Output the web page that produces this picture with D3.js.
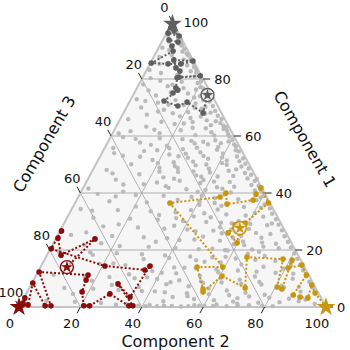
<!DOCTYPE html>
<html>
<head>
<meta charset="utf-8">
<script src="https://cdn.jsdelivr.net/npm/d3@7"></script>
<style>
body { margin: 0; background: #fff; }
text { font-family: "DejaVu Sans", Verdana, sans-serif; fill: #111; }
</style>
</head>
<body>
<svg width="350" height="350"></svg>
<script>

// DATA  (each point is [Component 1, Component 2] in %, Component 3 = 100 - a - b)

var tickValues = [0, 20, 40, 60, 80, 100];
var gridValues = [20, 40, 60, 80];
var axisTitles = ["Component 1", "Component 2", "Component 3"];

var grayPath = [
    [99.4, 0.3], [97.9, 0.5], [96.8, 2.1], [95.1, 4.6], [96.1, 0.5], [93.7, 2.0],
    [93.0, 5.3], [91.6, 4.0], [89.8, 5.3], [85.6, 0.3], [85.3, 5.9], [85.3, 10.1],
    [86.3, 13.5], [86.7, 7.1], [83.9, 9.2], [82.8, 11.0], [80.7, 11.8], [81.1, 18.5],
    [80.4, 11.3], [76.8, 12.7], [75.1, 12.6], [76.1, 13.7], [72.3, 11.1], [70.5, 16.5],
    [71.9, 18.8], [68.1, 25.9], [74.4, 24.2]
];

var redPath = [
    [0, 0], [1.4, 0.6], [3.2, 0.3], [0.7, 2.6], [8.4, 0.3], [0.4, 8.3], [0.4, 10.2],
    [12.3, 0.4], [11.2, 16.9], [9.5, 17.1], [5.3, 17.9], [0.4, 20.9], [0.4, 22.8],
    [4.6, 27.3], [0.4, 35.6], [0.4, 36.9], [8.1, 28.2], [3.5, 34.4], [14.4, 35.5],
    [13.0, 34.5], [14.4, 20.8], [20.4, 0.3], [26.7, 0.5], [24.2, 0.6], [18.2, 4.6],
    [23.9, 12.8], [14.0, 8.6]
];

var goldPath = [
    [0, 100], [4.9, 94.0], [7.7, 91.5], [3.2, 92.5], [3.5, 89.8], [4.2, 87.2],
    [11.2, 88.0], [14.7, 84.8], [13.7, 80.8], [16.5, 80.7], [6.3, 82.5], [7.0, 80.6],
    [16.8, 77.6], [17.5, 65.5], [6.7, 70.3], [10.9, 60.7], [5.3, 57.3], [6.3, 56.8],
    [14.0, 51.0], [14.0, 59.4], [36.5, 30.9], [38.6, 46.2], [40.0, 47.4], [36.1, 49.7],
    [37.5, 57.5], [39.6, 57.4], [41.8, 57.9], [36.5, 63.0], [29.5, 58.9], [28.8, 56.0],
    [26.0, 55.1], [22.5, 59.8], [27.7, 58.1]
];

var cloudPoints = [
    [98.5,0.8],[96.8,2.2],[95.2,1.0],[94.4,4.6],[93.1,2.5],[92.3,6.1],[91.0,1.2],[90.2,3.8],[89.6,8.4],[88.4,5.6],
    [87.7,1.9],[86.9,10.2],[86.1,7.3],[85.3,3.1],[84.8,12.4],[84.0,8.8],[83.2,0.9],[82.7,14.6],[82.1,5.2],[81.4,10.9],
    [80.8,16.8],[80.3,2.7],[87.1,12.3],[91.7,7.2],[85.6,14.1],[83.5,16.0],[89.0,10.1],[93.8,5.9],
    [79.4,6.3],[79.0,13.5],[78.6,18.9],[78.1,1.4],[77.5,9.7],[77.2,20.6],[76.8,15.2],[76.0,4.2],[75.7,22.4],[75.3,11.8],
    [74.9,17.6],[74.2,7.5],[73.8,24.6],[73.5,20.3],[72.9,1.9],[72.6,14.7],[72.1,26.1],[71.7,9.4],[71.4,21.8],[70.9,18.2],
    [70.5,27.9],[70.0,4.8],[69.6,24.7],[69.2,12.6],[68.8,29.5],[68.4,20.9],[68.0,16.1],[67.5,7.9],[67.1,31.2],[66.8,25.8],
    [66.3,22.7],[65.9,2.6],[65.5,28.4],[65.0,13.9],[64.6,33.3],[64.2,18.6],[63.8,30.6],[63.3,9.8],[62.9,25.1],[62.5,35.4],
    [62.0,21.7],[61.7,5.5],[61.3,32.0],[61.0,15.3],[60.6,37.8],[60.3,27.3],[78.0,11.0],[74.0,21.9],[72.3,5.0],[69.9,22.3],
    [67.8,26.7],[66.0,33.0],[63.0,36.0],[64.9,24.1],[71.0,13.2],[76.3,19.5],[68.6,11.0],[62.2,13.0],[60.9,2.0],
    [59.6,4.1],[59.2,16.3],[58.9,23.8],[58.5,34.7],[58.1,39.2],[57.7,10.6],[57.4,28.5],[57.0,41.6],[56.6,19.9],[56.2,36.8],
    [55.8,2.8],[55.4,25.7],[55.0,43.1],[54.7,13.4],[54.3,31.9],[53.9,39.5],[53.5,22.2],[53.1,7.3],[52.8,44.6],[52.4,28.8],
    [52.0,35.6],[51.6,17.7],[51.2,46.2],[50.8,25.0],[50.5,40.9],[50.1,11.5],[49.7,32.7],[49.3,47.8],[48.9,21.3],[48.5,37.6],
    [48.1,4.5],[47.8,44.4],[47.4,28.1],[47.0,50.1],[46.6,15.9],[46.2,34.6],[45.8,41.8],[45.5,24.3],[45.1,51.9],[44.7,9.2],
    [44.3,30.2],[43.9,46.7],[43.5,37.3],[43.1,19.1],[42.8,54.3],[42.4,26.6],[42.0,43.5],[41.6,1.8],[41.3,33.9],[40.9,56.4],
    [40.5,13.7],[40.2,48.9],[58.0,31.0],[56.9,14.5],[55.2,36.9],[53.8,27.4],[52.5,39.9],[51.0,31.2],[49.9,42.7],[48.8,27.3],
    [47.2,38.6],[46.0,46.8],[44.6,37.8],[43.7,23.1],[42.2,49.0],[41.1,40.2],[59.0,8.5],[54.0,4.0],[50.5,20.0],[46.9,7.0],
    [43.0,12.5],[57.5,37.0],[52.7,13.1],[48.3,46.6],[44.9,55.0],[41.8,27.8],[40.4,38.0],[55.7,21.1],
    [39.7,5.8],[39.3,18.4],[39.0,27.6],[38.6,36.9],[38.2,44.7],[37.8,52.5],[37.5,58.6],[37.1,10.9],[36.7,23.3],[36.3,31.5],
    [35.9,40.8],[35.5,48.2],[35.1,55.7],[34.8,61.4],[34.4,2.9],[34.0,15.2],[33.6,26.1],[33.2,34.4],[32.9,43.9],[32.5,51.3],
    [32.1,57.8],[31.7,63.7],[31.3,8.6],[31.0,20.7],[30.6,29.9],[30.2,38.3],[29.8,46.1],[29.4,54.6],[29.1,60.8],[28.7,66.5],
    [28.3,13.3],[27.9,24.8],[27.5,33.6],[27.2,41.2],[26.8,49.9],[26.4,57.3],[26.0,64.2],[25.6,69.1],[25.3,4.3],[24.9,17.9],
    [24.5,28.4],[24.1,36.2],[23.7,45.3],[23.3,53.8],[23.0,61.5],[22.6,67.9],[22.2,72.6],[21.8,10.4],[21.4,22.1],[21.1,31.7],
    [20.7,40.6],[20.3,48.4],[20.0,57.1],[20.2,65.8],[20.6,74.3],[39.5,47.2],[38.4,59.5],[37.0,40.3],[36.0,62.0],[35.3,20.4],
    [34.2,47.6],[33.0,60.3],[32.3,29.5],[31.5,46.7],[30.1,56.5],[29.3,67.7],[28.5,36.3],[27.4,61.2],[26.6,44.2],[25.9,53.1],
    [25.0,59.9],[24.3,66.8],[23.5,40.5],[22.9,33.1],[22.0,58.9],[21.2,69.0],[20.5,52.7],[38.8,12.1],[33.8,6.9],[29.0,18.0],
    [26.2,8.8],[22.4,15.6],[37.6,32.9],[31.2,35.6],[28.0,51.5],[24.7,47.6],
    [19.6,3.1],[19.2,13.6],[18.9,22.4],[18.5,30.8],[18.1,38.5],[17.7,46.9],[17.4,54.3],[17.0,62.1],[16.6,68.7],[16.2,75.4],
    [15.8,80.9],[15.5,8.2],[15.1,18.7],[14.7,27.3],[14.3,35.1],[13.9,43.6],[13.6,50.8],[13.2,57.7],[12.8,64.9],[12.4,71.2],
    [12.0,77.6],[11.7,83.5],[11.3,5.6],[10.9,15.9],[10.5,24.2],[10.1,32.6],[9.8,40.1],[9.4,47.5],[9.0,54.8],[8.6,61.7],
    [8.2,68.3],[7.9,75.0],[7.5,81.8],[7.1,87.6],[6.7,11.4],[6.4,21.0],[6.0,29.4],[5.6,37.2],[5.2,44.9],[4.8,52.3],
    [4.5,59.6],[4.1,66.4],[3.7,73.1],[3.3,79.9],[2.9,86.5],[2.6,92.0],[2.2,7.8],[1.8,17.3],[1.4,26.0],[1.0,34.5],
    [0.7,42.2],[0.4,49.6],[0.6,56.8],[0.9,63.9],[1.2,70.5],[1.5,77.2],[1.7,84.0],[2.0,90.1],[1.1,95.8],[19.8,58.0],
    [18.7,65.2],[17.9,71.1],[17.2,40.3],[16.4,49.5],[15.6,57.9],[14.9,65.0],[14.1,72.6],[13.4,79.4],[12.6,37.1],[11.8,45.3],
    [11.0,53.4],[10.2,60.6],[9.6,67.1],[8.8,73.9],[8.0,44.0],[7.3,51.6],[6.5,58.5],[5.8,64.8],[5.0,71.3],[4.3,77.9],
    [3.5,48.3],[2.8,55.6],[2.4,62.3],[1.9,68.8],[0.3,44.8],[0.5,38.6],[0.8,31.2],[0.2,52.7],[0.4,60.2],[0.6,74.6],
    [3.9,33.3],[7.7,26.4],[11.5,30.1],[15.3,23.1],[18.3,14.9],[13.0,9.9],[9.2,19.2],[4.6,15.3],[16.8,32.2],[5.4,89.0],
    [9.9,84.2],[14.5,81.3],[6.9,82.9],[3.1,69.6],[10.7,71.5],[12.2,58.8],[8.4,55.8],
    // band along the right edge
    [65.2,31.5],[63.6,34.8],[61.8,36.9],[59.8,38.6],[58.7,40.2],[56.4,42.5],[54.6,44.3],[52.2,46.9],[50.3,48.6],[48.6,50.5],
    [46.4,52.4],[44.2,54.7],[42.5,56.8],[40.7,58.6],[38.9,60.1],[36.6,62.7],[34.6,64.4],[32.7,66.1],[30.8,68.3],[28.9,70.1],
    [26.9,72.2],[24.8,74.1],[22.8,76.2],[20.9,78.1],[18.8,80.3],[16.9,82.2],[14.8,84.3],[12.9,86.1],[10.8,88.2],[8.9,90.1],
    [6.8,92.3],[4.9,94.1],[70.3,25.6],[68.2,28.3],[72.6,23.7],[74.8,22.9],[76.7,21.7],[79.2,19.7],[82.3,16.6],[84.2,14.9],
    [86.4,12.7],[88.3,10.9],[90.5,8.6],[92.6,6.5],
    // middle
    [55.9,30.0],[53.0,33.6],[50.0,36.0],[47.6,33.0],[45.0,28.0],[44.0,41.5],[41.5,45.5],[39.0,40.0],[36.5,45.5],[34.0,39.0],
    [31.8,41.0],[29.6,51.0],[27.1,55.5],[24.4,57.5],[21.7,62.5],[19.4,68.5],[17.6,58.5],[15.9,52.5],[13.8,47.0],[12.0,40.5],
    [10.4,36.5],[8.7,45.0],[7.0,35.5],[5.5,41.5],[3.8,53.0],[2.0,46.0],[66.9,19.0],[64.4,21.5],[62.7,29.5],[60.2,33.5],
    [58.3,27.0],[57.1,33.0],[55.0,17.5],[52.9,25.5],[51.4,42.0],[49.5,26.0],[47.5,22.0],[45.7,36.5],
    // bottom edge
    [0.3,41.0],[0.5,47.0],[0.3,55.0],[0.5,58.5],[0.4,63.0],[0.3,67.5],[0.5,71.0],[0.4,79.0],[0.3,82.5]
];

var series = [
    { name: "gray", color: "#5f5f5f", path: grayPath },
    { name: "red", color: "#8b0a0a", path: redPath },
    { name: "gold", color: "#c9960f", path: goldPath }
];


var svg = d3.select("svg");

// triangle corners in pixels
var xLeft = 19, xRight = 326, yBottom = 307, yTop = 22;
var apexX = (xLeft + xRight) / 2;

var yA = d3.scaleLinear().domain([0, 100]).range([yBottom, yTop]);
var xA = d3.scaleLinear().domain([0, 100]).range([0, apexX - xLeft]);
var xB = d3.scaleLinear().domain([0, 100]).range([0, xRight - xLeft]);

function pt(a, b) {
    return [xLeft + xA(a) + xB(b), yA(a)];
}

var line = d3.line()
    .x(function (d) { return pt(d[0], d[1])[0]; })
    .y(function (d) { return pt(d[0], d[1])[1]; });

// background triangle
svg.append("path")
    .attr("d", line([[100, 0], [0, 0], [0, 100]]) + "Z")
    .attr("fill", "#f6f6f6");

// grid
var grid = svg.append("g")
    .attr("stroke", "#a0a0a0")
    .attr("stroke-width", 0.8)
    .attr("fill", "none");

gridValues.forEach(function (v) {
    grid.append("path").attr("d", line([[v, 0], [v, 100 - v]]));          // component 1
    grid.append("path").attr("d", line([[0, v], [100 - v, v]]));          // component 2
    grid.append("path").attr("d", line([[100 - v, 0], [0, 100 - v]]));    // component 3
});

// edges
svg.append("path")
    .attr("d", line([[100, 0], [0, 0], [0, 100]]) + "Z")
    .attr("fill", "none")
    .attr("stroke", "#c4c4c4")
    .attr("stroke-width", 2);

// cloud of samples
svg.append("g")
    .selectAll("circle")
    .data(cloudPoints)
    .enter().append("circle")
    .attr("cx", function (d) { return pt(d[0], d[1])[0]; })
    .attr("cy", function (d) { return pt(d[0], d[1])[1]; })
    .attr("r", 2.2)
    .attr("fill", "#bababa");

// ticks
var tickLen = 7;
var dirL = [xLeft - apexX, yBottom - yTop];
var n = Math.hypot(dirL[0], dirL[1]);
dirL = [dirL[0] / n, dirL[1] / n];   // down-left, parallel to left edge
var dirR = [dirL[0], -dirL[1]];      // up-left, parallel to right edge

var axes = svg.append("g");

tickValues.forEach(function (v) {
    // component 1, right edge
    var p = pt(v, 100 - v);
    axes.append("line")
        .attr("x1", p[0]).attr("y1", p[1])
        .attr("x2", p[0] + tickLen).attr("y2", p[1])
        .attr("stroke", "#222");
    axes.append("text")
        .attr("x", p[0] + 11).attr("y", p[1])
        .attr("dy", "0.36em")
        .attr("font-size", 13)
        .text(v);

    // component 2, bottom edge
    p = pt(0, v);
    axes.append("line")
        .attr("x1", p[0]).attr("y1", p[1])
        .attr("x2", p[0] + dirL[0] * tickLen).attr("y2", p[1] + dirL[1] * tickLen)
        .attr("stroke", "#222");
    axes.append("text")
        .attr("x", p[0] + dirL[0] * 19).attr("y", p[1] + dirL[1] * 19)
        .attr("dy", "0.36em")
        .attr("text-anchor", "middle")
        .attr("font-size", 13)
        .text(v);

    // component 3, left edge
    p = pt(100 - v, 0);
    axes.append("line")
        .attr("x1", p[0]).attr("y1", p[1])
        .attr("x2", p[0] + dirR[0] * tickLen).attr("y2", p[1] + dirR[1] * tickLen)
        .attr("stroke", "#222");
    axes.append("text")
        .attr("x", p[0] + dirR[0] * 17).attr("y", p[1] + dirR[1] * 17)
        .attr("dy", "0.36em")
        .attr("text-anchor", "middle")
        .attr("font-size", 13)
        .text(v);
});

// axis titles
axes.append("text")
    .attr("transform", "translate(305,139) rotate(60)")
    .attr("text-anchor", "middle")
    .attr("dy", "0.36em")
    .attr("font-size", 16)
    .text(axisTitles[0]);

axes.append("text")
    .attr("x", apexX + 3).attr("y", 341)
    .attr("text-anchor", "middle")
    .attr("dy", "0.36em")
    .attr("font-size", 16)
    .text(axisTitles[1]);

axes.append("text")
    .attr("transform", "translate(44,144) rotate(-60)")
    .attr("text-anchor", "middle")
    .attr("dy", "0.36em")
    .attr("font-size", 16)
    .text(axisTitles[2]);

// series
var star = d3.symbol().type(d3.symbolStar);

series.forEach(function (s) {
    var g = svg.append("g");

    g.append("path")
        .attr("d", line(s.path))
        .attr("fill", "none")
        .attr("stroke", s.color)
        .attr("stroke-width", 2)
        .attr("stroke-dasharray", "2,2");

    g.selectAll("circle")
        .data(s.path.slice(1, -1))
        .enter().append("circle")
        .attr("cx", function (d) { return pt(d[0], d[1])[0]; })
        .attr("cy", function (d) { return pt(d[0], d[1])[1]; })
        .attr("r", 2.8)
        .attr("fill", s.color);

    var first = pt(s.path[0][0], s.path[0][1]);
    g.append("path")
        .attr("d", star.size(110)())
        .attr("transform", "translate(" + first + ")")
        .attr("fill", s.color);

    var last = pt(s.path[s.path.length - 1][0], s.path[s.path.length - 1][1]);
    g.append("circle")
        .attr("cx", last[0]).attr("cy", last[1])
        .attr("r", 6.5)
        .attr("fill", "rgba(255,255,255,0.6)")
        .attr("stroke", s.color)
        .attr("stroke-width", 1.4);
    g.append("path")
        .attr("d", star.size(45)())
        .attr("transform", "translate(" + last + ")")
        .attr("fill", s.color);
});

</script>
</body>
</html>
